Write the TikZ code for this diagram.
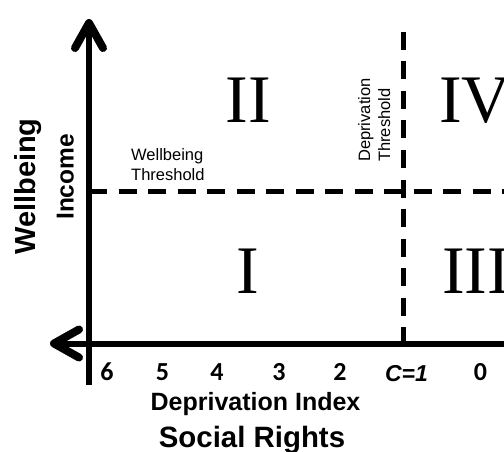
\documentclass[tikz,border=0pt]{standalone}
\usepackage{fontspec}
\setmainfont{Liberation Serif}
\newfontfamily\arialf{Liberation Sans}
\newfontfamily\carlitof{Carlito}
\usetikzlibrary{arrows.meta}
\begin{document}
\begin{tikzpicture}[x=1pt,y=-1pt,
  axisline/.style={line width=6pt,-{Straight Barb[length=25pt,width=28pt,line width=8pt,round]}},
  threshline/.style={line width=5pt,dash pattern=on 18pt off 11.5pt},
  roman/.style={inner sep=0pt,font=\fontsize{68}{68}\selectfont},
  tick/.style={inner sep=0pt,anchor=base,font=\carlitof\bfseries\fontsize{26}{26}\selectfont},
  smalllab/.style={inner sep=0pt,align=left,font=\arialf\fontsize{16.5}{20}\selectfont},
  biglab/.style={inner sep=0pt,font=\arialf\bfseries}
]
\useasboundingbox (0,0) rectangle (504,452);
\clip (0,0) rectangle (504,452);
% coordinates
\coordinate (ybot) at (89,385);
\coordinate (ytop) at (89,19);
\coordinate (xright) at (510,343.5);
\coordinate (xleft) at (50,343.5);
\coordinate (hstart) at (89,191);
\coordinate (hend) at (510,191);
\coordinate (vtop) at (403,32);
\coordinate (vbot) at (403,343.5);
% threshold lines
\draw[threshline] (hstart) -- (hend);
\draw[threshline] (vtop) -- (vbot);
% axes
\draw[axisline] (ybot) -- (ytop);
\draw[axisline] (xright) -- (xleft);
% quadrant labels
\node[roman,anchor=base] (q2) at (248.5,123) {II};
\node[roman,anchor=base] (q1) at (247.5,293) {I};
\node[roman,anchor=base west] (q4) at (439,123) {IV};
\node[roman,anchor=base west] (q3) at (442,293) {III};
% threshold labels
\node[smalllab,anchor=base west] (wt) at (131,180) {Wellbeing\\Threshold};
\node[smalllab,anchor=base west,rotate=90] (dt) at (390,162) {Deprivation\\Threshold};
% axis labels
\node[biglab,font=\arialf\bfseries\fontsize{29}{29}\selectfont,anchor=base west,rotate=90] (wb) at (35.5,255) {Wellbeing};
\node[biglab,font=\arialf\bfseries\fontsize{24.5}{24.5}\selectfont,anchor=base west,rotate=90] (inc) at (73.5,220) {Income};
% ticks
\node[tick] (t6) at (107,380) {6};
\node[tick] (t5) at (162.5,380) {5};
\node[tick] (t4) at (217,380) {4};
\node[tick] (t3) at (279,380) {3};
\node[tick] (t2) at (340,380) {2};
\node[inner sep=0pt,anchor=base,font=\arialf\bfseries\itshape\fontsize{23}{23}\selectfont] (tc) at (406.5,381.5) {C=1};
\node[tick] (t0) at (480.5,380) {0};
\node[biglab,font=\arialf\bfseries\fontsize{25}{25}\selectfont,anchor=base] (di) at (255.5,410) {Deprivation Index};
\node[biglab,font=\arialf\bfseries\fontsize{29.4}{29.4}\selectfont,anchor=base] (sr) at (252,447) {Social Rights};
\end{tikzpicture}
\end{document}
